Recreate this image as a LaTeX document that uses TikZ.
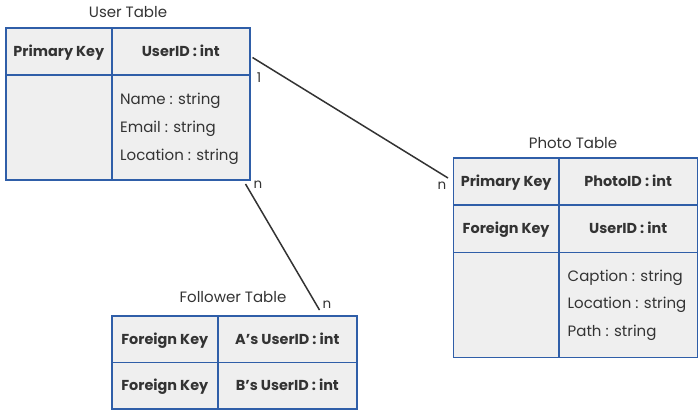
\documentclass[tikz,border=0pt]{standalone}
\usepackage{fontspec}
\setmainfont{Poppins}
\definecolor{tblue}{HTML}{2F5EA8}
\definecolor{tfill}{HTML}{EFEFEF}
\definecolor{ttext}{HTML}{333333}
\begin{document}
\begin{tikzpicture}[x=1pt,y=-1pt,
  cell/.style={draw=tblue,fill=tfill,line width=1.6pt,rectangle,anchor=north west,inner sep=0pt,
     text height=10pt,text depth=0pt,
     font=\fontsize{14.4}{16}\selectfont\bfseries,text=ttext},
  field/.style={anchor=base west,inner sep=0pt,font=\fontsize{15}{17}\selectfont,text=ttext},
  ttl/.style={anchor=center,inner sep=0pt,font=\fontsize{15}{17}\selectfont,text=ttext},
  card/.style={anchor=center,inner sep=0pt,font=\fontsize{13.5}{15}\selectfont,text=ttext},
  rel/.style={draw=ttext,line width=1.5pt}]
\useasboundingbox (0,0) rectangle (700,413);
% User table
\node[ttl] (utitle) at (128,12) {User Table};
\node[cell,minimum width=106pt,minimum height=47pt] (uPK) at (5,27) {Primary Key};
\node[cell,minimum width=138pt,minimum height=47pt] (uID) at (111,27) {UserID : int};
\node[cell,minimum width=106pt,minimum height=105pt] (uE) at (5,74) {};
\node[cell,minimum width=138pt,minimum height=105pt] (uF) at (111,74) {};
\node[field] (u1) at (120,104.5) {Name : string};
\node[field] (u2) at (120,132.5) {Email : string};
\node[field] (u3) at (120,160.5) {Location : string};
% Photo table
\node[ttl] (ptitle) at (573,143) {Photo Table};
\node[cell,minimum width=105.3pt,minimum height=46.7pt] (pPK) at (452.7,157.3) {Primary Key};
\node[cell,minimum width=138.7pt,minimum height=46.7pt] (pID) at (558,157.3) {PhotoID : int};
\node[cell,minimum width=105.3pt,minimum height=47.7pt] (pFK) at (452.7,204) {Foreign Key};
\node[cell,minimum width=138.7pt,minimum height=47.7pt] (pUID) at (558,204) {UserID : int};
\node[cell,minimum width=105.3pt,minimum height=105pt] (pE) at (452.7,251.7) {};
\node[cell,minimum width=138.7pt,minimum height=105pt] (pF) at (558,251.7) {};
\node[field] (p1) at (567.5,281) {Caption : string};
\node[field] (p2) at (567.5,308.5) {Location : string};
\node[field] (p3) at (567.5,336.5) {Path : string};
% Follower table
\node[ttl] (ftitle) at (233,297) {Follower Table};
\node[cell,minimum width=106pt,minimum height=46.7pt] (fFK1) at (111,315) {Foreign Key};
\node[cell,minimum width=139pt,minimum height=46.7pt] (fA) at (217,315) {A’s UserID : int};
\node[cell,minimum width=106pt,minimum height=46.3pt] (fFK2) at (111,361.7) {Foreign Key};
\node[cell,minimum width=139pt,minimum height=46.3pt] (fB) at (217,361.7) {B’s UserID : int};
% connectors
\coordinate (c1) at (252.5,57.5);
\coordinate (c2) at (448,178);
\coordinate (c3) at (245.5,184);
\coordinate (c4) at (319.5,310);
\draw[rel] (c1) -- (c2);
\draw[rel] (c3) -- (c4);
\node[card] (l1) at (259,78) {1};
\node[card] (l2) at (442,186) {n};
\node[card] (l3) at (258,185) {n};
\node[card] (l4) at (327,305) {n};
\end{tikzpicture}
\end{document}
